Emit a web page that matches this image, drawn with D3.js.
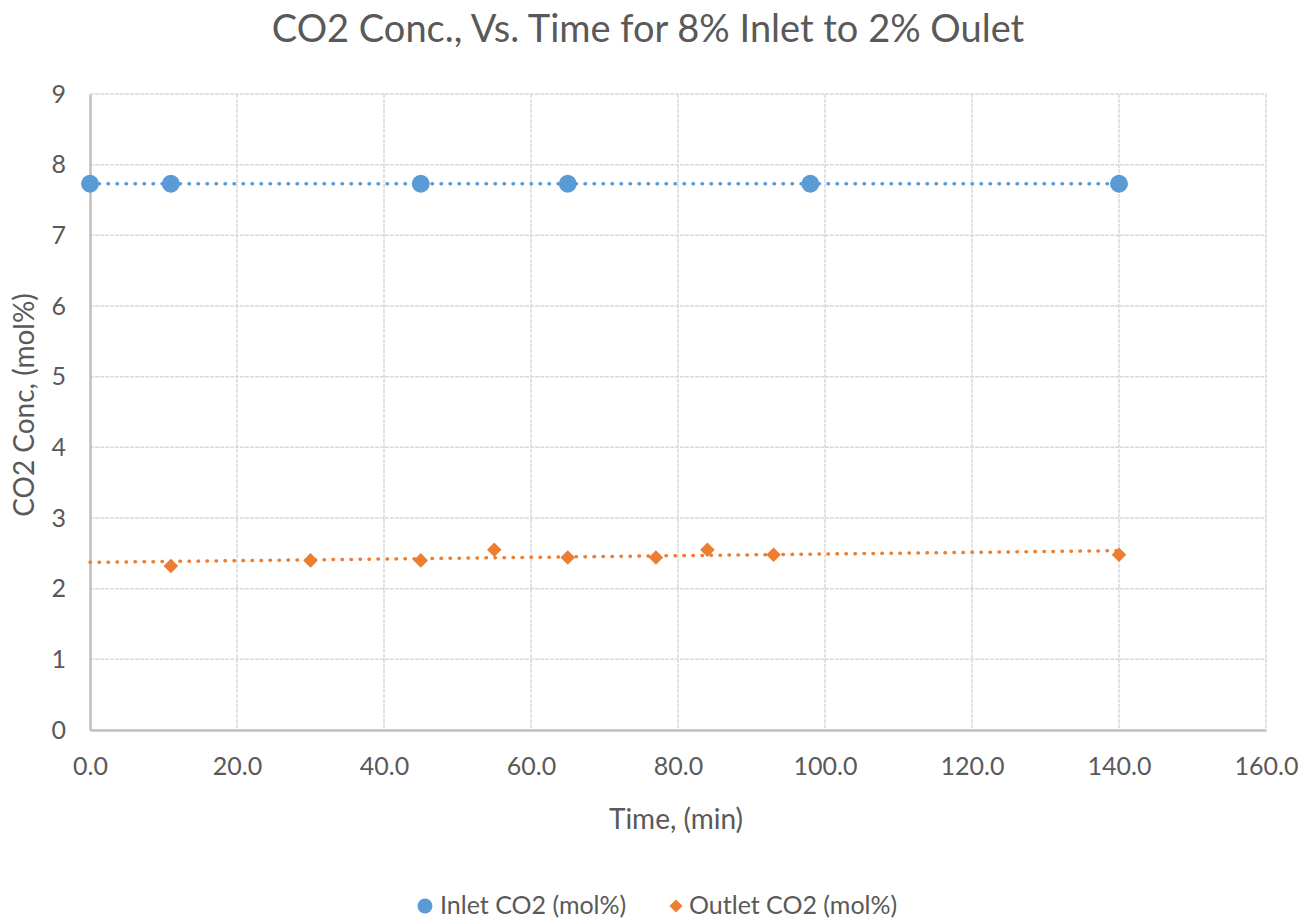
<!DOCTYPE html>
<html>
<head>
<meta charset="utf-8">
<script src="https://cdn.jsdelivr.net/npm/d3@7"></script>
<style>
  body { margin: 0; background: #fff; }
  svg text { font-family: Lato, "Open Sans", sans-serif; fill: #595959; }
</style>
</head>
<body>
<div id="chart"></div>
<script>
// data
var inletTime = [0, 11, 45, 65, 98, 140];
var inletConc = [7.73, 7.73, 7.73, 7.73, 7.73, 7.73];
var outletTime = [11, 30, 45, 55, 65, 77, 84, 93, 140];
var outletConc = [2.32, 2.40, 2.40, 2.55, 2.44, 2.44, 2.55, 2.48, 2.48];
var xTicks = [0, 20, 40, 60, 80, 100, 120, 140, 160];
var yTicks = [0, 1, 2, 3, 4, 5, 6, 7, 8, 9];

var W = 1301, H = 919;
var margin = {top: 94, right: 35, bottom: 189, left: 90};
var w = 1266 - margin.left;
var h = 730 - margin.top;
var blue = "#5B9BD5", orange = "#ED7D31";

var x = d3.scaleLinear().domain([0, 160]).range([0, w]);
var y = d3.scaleLinear().domain([0, 9]).range([h, 0]);

var svg = d3.select('#chart').append('svg')
  .attr('width', W).attr('height', H);

svg.append('text')
  .attr('x', 648).attr('y', 42)
  .attr('text-anchor', 'middle')
  .style('font-size', '38px')
  .text('CO2 Conc., Vs. Time for 8% Inlet to 2% Oulet');

var g = svg.append('g')
  .attr('transform', 'translate(' + margin.left + ',' + margin.top + ')');

// grid
g.selectAll('.hgrid').data(yTicks.slice(1)).enter().append('line')
  .attr('x1', 0).attr('x2', w)
  .attr('y1', function(d){ return y(d); }).attr('y2', function(d){ return y(d); })
  .attr('stroke', '#d9d9d9').attr('stroke-width', 1.5).attr('stroke-dasharray', '4,1');
g.selectAll('.vgrid').data(xTicks.slice(1)).enter().append('line')
  .attr('y1', 0).attr('y2', h)
  .attr('x1', function(d){ return x(d); }).attr('x2', function(d){ return x(d); })
  .attr('stroke', '#d9d9d9').attr('stroke-width', 1.5).attr('stroke-dasharray', '4,1');

// axes
var xAxis = d3.axisBottom(x).tickValues(xTicks).tickSize(0).tickPadding(27)
  .tickFormat(d3.format('.1f'));
var gx = g.append('g').attr('transform', 'translate(0,' + h + ')').call(xAxis);
gx.select('.domain').attr('stroke', '#bfbfbf').attr('stroke-width', 2.5);
gx.selectAll('text').style('font-size', '25px').style('font-family', 'Lato, sans-serif').attr('fill', '#595959');

var yAxis = d3.axisLeft(y).tickValues(yTicks).tickSize(0).tickPadding(24);
var gy = g.append('g').call(yAxis);
gy.select('.domain').attr('stroke', '#bfbfbf').attr('stroke-width', 2.5);
gy.selectAll('text').style('font-size', '25px').style('font-family', 'Lato, sans-serif').attr('fill', '#595959');

// axis titles
svg.append('text')
  .attr('x', 676).attr('y', 829)
  .attr('text-anchor', 'middle').style('font-size', '28px')
  .text('Time, (min)');
svg.append('text')
  .attr('transform', 'translate(34,405) rotate(-90)')
  .attr('text-anchor', 'middle').style('font-size', '28px')
  .text('CO2 Conc, (mol%)');

// linear trendline
function fit(xs, ys) {
  var mx = d3.mean(xs), my = d3.mean(ys);
  var num = d3.sum(xs, function(v, i){ return (v - mx) * (ys[i] - my); });
  var den = d3.sum(xs, function(v){ return (v - mx) * (v - mx); });
  var b = num / den;
  return function(t){ return my + b * (t - mx); };
}
var inFit = fit(inletTime, inletConc);
var outFit = fit(outletTime, outletConc);

var line = d3.line().x(function(d){ return x(d[0]); }).y(function(d){ return y(d[1]); });
g.append('path')
  .attr('d', line([[0, inFit(0)], [140, inFit(140)]]))
  .attr('stroke', blue).attr('stroke-width', 3.5).attr('fill', 'none')
  .attr('stroke-dasharray', '0.5,8.5').attr('stroke-linecap', 'round');
g.append('path')
  .attr('d', line([[0, outFit(0)], [140, outFit(140)]]))
  .attr('stroke', orange).attr('stroke-width', 3.5).attr('fill', 'none')
  .attr('stroke-dasharray', '0.5,8.5').attr('stroke-linecap', 'round');

// markers
g.selectAll('.inlet').data(inletTime).enter().append('circle')
  .attr('cx', function(d){ return x(d); })
  .attr('cy', function(d, i){ return y(inletConc[i]); })
  .attr('r', 9).attr('fill', blue);

var diamond = d3.symbol().type(d3.symbolDiamond2).size(135);
g.selectAll('.outlet').data(outletTime).enter().append('path')
  .attr('d', diamond)
  .attr('transform', function(d, i){ return 'translate(' + x(d) + ',' + y(outletConc[i]) + ')'; })
  .attr('fill', orange);

// legend
var leg = svg.append('g');
leg.append('circle').attr('cx', 425).attr('cy', 906).attr('r', 7.5).attr('fill', blue);
leg.append('text').attr('x', 440).attr('y', 914).style('font-size', '25px').text('Inlet CO2 (mol%)');
leg.append('path').attr('d', d3.symbol().type(d3.symbolDiamond2).size(110))
  .attr('transform', 'translate(676,906)').attr('fill', orange);
leg.append('text').attr('x', 689).attr('y', 914).style('font-size', '25px').text('Outlet CO2 (mol%)');
</script>
</body>
</html>
